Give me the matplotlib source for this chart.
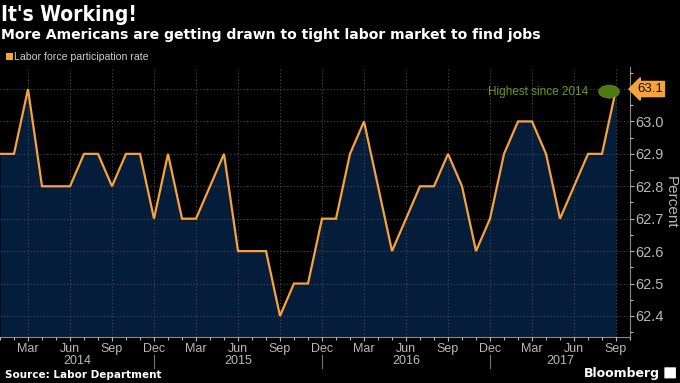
import matplotlib
matplotlib.use("Agg")
import matplotlib.pyplot as plt
import matplotlib.transforms as mtransforms
from matplotlib.patches import Ellipse, FancyBboxPatch, Rectangle
from matplotlib.ticker import FixedLocator, MultipleLocator

# ---- data ----
months = ["Jan", "Feb", "Mar", "Apr", "May", "Jun", "Jul", "Aug", "Sep", "Oct", "Nov", "Dec"]
years = [2014, 2015, 2016, 2017]
rate = [
    62.9, 62.9, 63.1, 62.8, 62.8, 62.8, 62.9, 62.9, 62.8, 62.9, 62.9, 62.7,   # 2014
    62.9, 62.7, 62.7, 62.8, 62.9, 62.6, 62.6, 62.6, 62.4, 62.5, 62.5, 62.7,   # 2015
    62.7, 62.9, 63.0, 62.8, 62.6, 62.7, 62.8, 62.8, 62.9, 62.8, 62.6, 62.7,   # 2016
    62.9, 63.0, 63.0, 62.9, 62.7, 62.8, 62.9, 62.9, 63.1,                     # 2017
]
ytick_vals = [62.4, 62.5, 62.6, 62.7, 62.8, 62.9, 63.0]
last_label = "63.1"
annotation = "Highest since 2014"
title = "It's Working!"
subtitle = "More Americans are getting drawn to tight labor market to find jobs"
legend_label = "Labor force participation rate"
source = "Source: Labor Department"

# ---- styling ----
plt.rcParams["font.family"] = ["Liberation Sans", "DejaVu Sans"]
BG = "black"
FILL = "#041d3a"
LINE = "#f7a33a"
GRID = "#4a4a4a"
TICK = "#b8b8b8"
GREEN = "#6a9c1a"

fig = plt.figure(figsize=(6.8, 3.83), dpi=100, facecolor=BG)
ax = fig.add_axes([0.0, 0.1201, 0.9265, 0.7050])
ax.set_facecolor(BG)

x = list(range(len(rate)))
ax.fill_between(x, rate, 62.0, color=FILL, zorder=1, linewidth=0)
ax.plot(x, rate, color=LINE, linewidth=1.6, zorder=3, solid_joinstyle="miter")

ax.set_xlim(0, 45)
ax.set_ylim(62.335, 63.168)

# x ticks
major_x = [i for i in x if months[i % 12] in ("Mar", "Jun", "Sep", "Dec")]
ax.xaxis.set_major_locator(FixedLocator(major_x))
ax.xaxis.set_minor_locator(MultipleLocator(1))
ax.set_xticklabels([months[i % 12] for i in major_x])
ax.tick_params(axis="x", which="both", colors=TICK, labelsize=9, pad=1,
               direction="out", length=3, width=0.8)
ax.tick_params(axis="x", which="minor", length=2)

# y ticks on right
ax.yaxis.tick_right()
ax.yaxis.set_label_position("right")
ax.yaxis.set_major_locator(FixedLocator(ytick_vals + [63.1]))
ax.yaxis.set_minor_locator(MultipleLocator(0.05))
ax.set_yticklabels([f"{v:.1f}" for v in ytick_vals] + [""])
ax.tick_params(axis="y", which="both", colors=TICK, labelsize=10.5, pad=1,
               direction="out", length=3, width=0.8)
ax.tick_params(axis="y", which="minor", length=2)
ax.set_ylabel("Percent", color=TICK, fontsize=11, rotation=270, labelpad=10)

# grid
ax.grid(True, which="major", color=GRID, linestyle=(0, (1, 2)), linewidth=0.8, zorder=2)
ax.set_axisbelow(False)
for ln in ax.get_xgridlines() + ax.get_ygridlines():
    ln.set_zorder(2)

for s in ("top", "left"):
    ax.spines[s].set_visible(False)
ax.spines["bottom"].set_color("#8a8a8a")
ax.spines["right"].set_color("#8a8a8a")

# year labels and separators
trans = mtransforms.blended_transform_factory(ax.transData, ax.transAxes)
bounds = [0, 11, 23, 35, 45]
for i, yr in enumerate(years):
    mid = (bounds[i] + bounds[i + 1]) / 2
    ax.text(mid, -0.090, str(yr), transform=trans, ha="center", va="center",
            color=TICK, fontsize=9)
for b in bounds[1:-1]:
    ax.plot([b, b], [-0.066, -0.115], transform=trans, color="#777777",
            linewidth=0.8, clip_on=False)

# annotation
last_i = len(rate) - 1
ell = Ellipse((last_i - 0.5, rate[-1] - 0.008), width=1.5, height=0.04,
              facecolor="#4f7a10", edgecolor="#7aa82a", linestyle=(0, (1, 1)),
              linewidth=0.6, zorder=4)
ax.add_patch(ell)
ax.text(last_i - 2.0, rate[-1] - 0.01, annotation, ha="right", va="center",
        color=GREEN, fontsize=8.5, zorder=5)

# last value tag
ax.annotate(last_label, xy=(1.0, rate[-1]), xycoords=("axes fraction", "data"),
            xytext=(5, 0), textcoords="offset points", ha="left", va="center",
            fontsize=9.5, color="#111111", annotation_clip=False,
            bbox=dict(boxstyle="larrow,pad=0.12", facecolor=LINE, edgecolor=LINE))

# titles
fig.text(0.002, 0.962, title, color="white", fontsize=15, fontweight="bold",
         ha="left", va="center", family=["DejaVu Sans"], fontstretch="condensed")
fig.text(0.002, 0.909, subtitle, color="white", fontsize=10.1, fontweight="bold",
         ha="left", va="center", family=["DejaVu Sans"])
fig.patches.append(Rectangle((0.009, 0.843), 0.010, 0.018, transform=fig.transFigure,
                             facecolor=LINE, edgecolor="none"))
fig.text(0.020, 0.851, legend_label, color="#cccccc", fontsize=7.6,
         ha="left", va="center")

fig.text(0.008, 0.020, source, color="white", fontsize=7.5, fontweight="bold",
         ha="left", va="center", family=["DejaVu Sans"])
fig.text(0.970, 0.026, "Bloomberg", color="white", fontsize=9, fontweight="bold",
         ha="right", va="center", family=["DejaVu Sans"])
fig.patches.append(FancyBboxPatch((0.978, 0.013), 0.015, 0.027,
                                  boxstyle="round,pad=0.001", transform=fig.transFigure,
                                  facecolor="white", edgecolor="none"))

fig.savefig("out.png", dpi=100, facecolor=BG)
